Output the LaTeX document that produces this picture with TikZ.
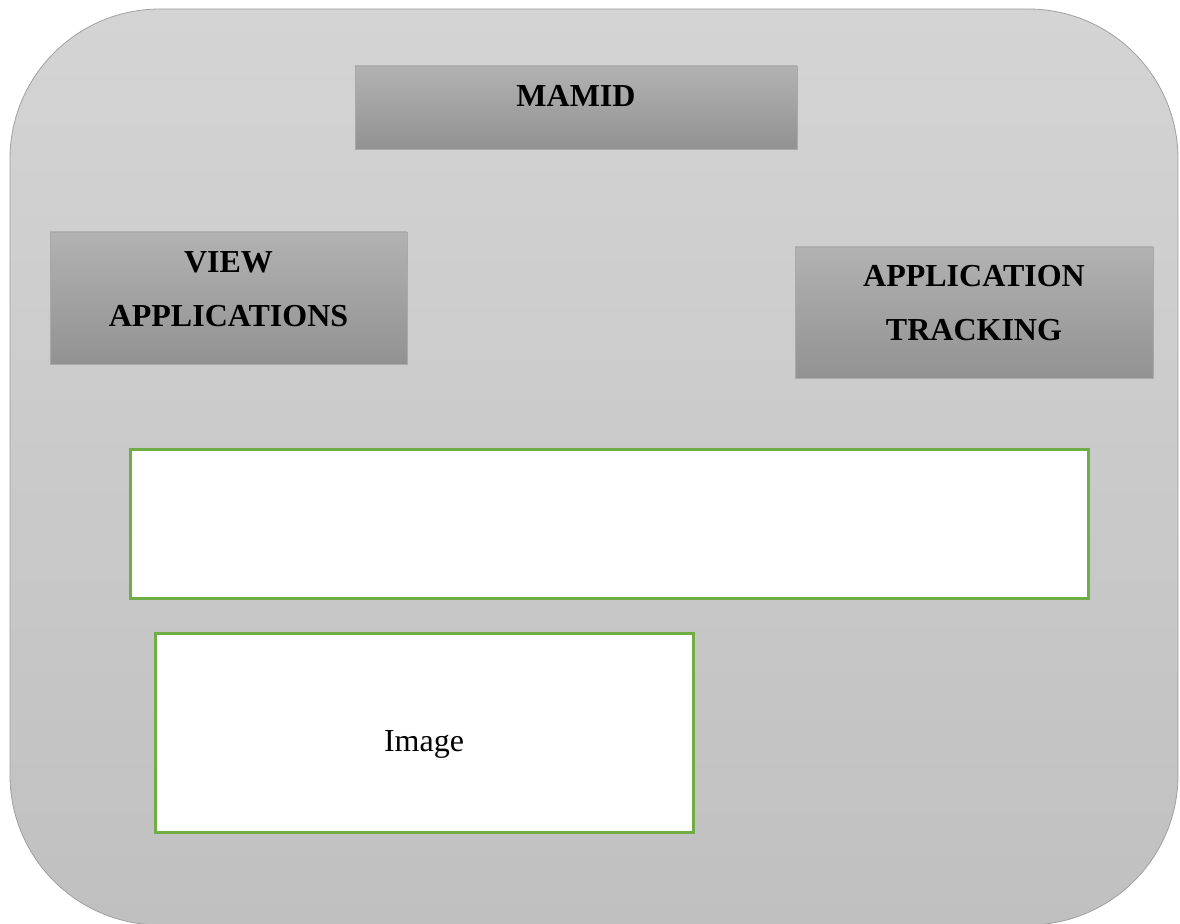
\documentclass[tikz,border=0pt]{standalone}
\usepackage{fontspec}
\setmainfont{Liberation Serif}
\usepackage{xcolor}
\usetikzlibrary{shapes,positioning}

\definecolor{frameline}{HTML}{A0A0A0}
\definecolor{frametop}{HTML}{D4D4D4}
\definecolor{framebot}{HTML}{C0C0C0}
\definecolor{menutop}{HTML}{B2B2B2}
\definecolor{menubot}{HTML}{929292}
\definecolor{menuline}{HTML}{A9A9A9}
\definecolor{panelgreen}{HTML}{70AD47}

\begin{document}
\begin{tikzpicture}[
    x=0.5pt, y=-0.5pt,
    frame/.style={rectangle, draw=frameline, rounded corners=75pt, top color=frametop, bottom color=framebot, minimum width=584pt, minimum height=458pt},
    menu/.style={rectangle, draw=menuline, top color=menutop, bottom color=menubot, minimum width=#1},
    panel/.style={rectangle, draw=panelgreen, line width=1.5pt, fill=white},
    menutext/.style={font=\fontsize{16}{27}\selectfont\bfseries, align=center, inner sep=0pt},
    paneltext/.style={font=\fontsize{16}{19}\selectfont, inner sep=0pt}
]
    \useasboundingbox (0,0) rectangle (1180,924);

    % Outer frame
    \node[frame] (app) at (594,467) {};

    % Menu buttons
    \node[menu=221pt, minimum height=41.5pt] (mamid) at (576,107.5) {};
    \node[menutext, anchor=base] at ([yshift=0.4pt]mamid.center) {MAMID};

    \node[menu=178.5pt, minimum height=66pt] (view) at (228.5,298) {};
    \node[menutext] at ([yshift=4.5pt]view.center) {VIEW\\APPLICATIONS};

    \node[menu=179pt, minimum height=65.5pt] (track) at (974,312.5) {};
    \node[menutext] at ([yshift=4.5pt]track.center) {APPLICATION\\TRACKING};

    % Content panels
    \node[panel, minimum width=479pt, minimum height=74.5pt] (banner) at (609,524.5) {};
    \node[panel, minimum width=269pt, minimum height=99.5pt] (image) at (424,733.5) {};
    \node[paneltext, anchor=base] at ([yshift=-9.1pt]image.center) {Image};
\end{tikzpicture}
\end{document}
